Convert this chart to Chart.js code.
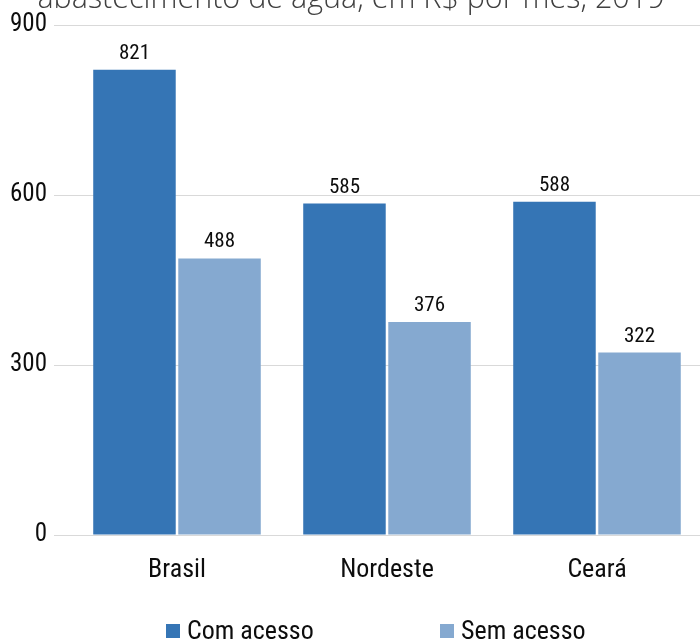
<!DOCTYPE html>
<html>
<head>
<meta charset="utf-8">
<title>Gasto com água</title>
<script src="https://cdn.jsdelivr.net/npm/chart.js@4.4.1/dist/chart.umd.min.js"></script>
<style>
  html, body { margin: 0; padding: 0; overflow: hidden; background: #fff; }
  #caixa { position: relative; width: 700px; height: 641px; overflow: hidden; }
  #grafico { position: absolute; left: 0; top: -19px; }
</style>
</head>
<body>
<div id="caixa">
  <canvas id="grafico" width="702" height="660"></canvas>
</div>
<script>
// dados
const categorias = ['Brasil', 'Nordeste', 'Ceará'];
const comAcesso = [821, 585, 588];
const semAcesso = [488, 376, 322];
const ticksY = [0, 300, 600, 900];
const titulo = 'abastecimento de água, em R$ por mês, 2019';

const corCom = '#3575b5';
const corSem = '#85a9d0';
const corTexto = '#0d0d0d';
const fonteNarrow = "'Roboto Condensed', 'Liberation Sans', Arial, sans-serif";

// rótulos em cima das barras
const rotulosBarras = {
  id: 'rotulosBarras',
  afterDatasetsDraw(chart) {
    const ctx = chart.ctx;
    ctx.save();
    ctx.font = '21px ' + fonteNarrow;
    ctx.fillStyle = corTexto;
    ctx.textAlign = 'center';
    ctx.textBaseline = 'alphabetic';
    chart.data.datasets.forEach((ds, i) => {
      chart.getDatasetMeta(i).data.forEach((bar, j) => {
        ctx.fillText(ds.data[j], bar.x, bar.y - 11);
      });
    });
    ctx.restore();
  }
};

// legenda desenhada na mão (espaçamento igual ao original)
const legendaManual = {
  id: 'legendaManual',
  afterDraw(chart) {
    const ctx = chart.ctx;
    const posX = [166, 440];
    const base = 658;
    ctx.save();
    ctx.font = '26px ' + fonteNarrow;
    ctx.textBaseline = 'alphabetic';
    chart.data.datasets.forEach((ds, i) => {
      ctx.fillStyle = ds.backgroundColor;
      ctx.fillRect(posX[i], base - 15, 14, 14);
      ctx.fillStyle = corTexto;
      ctx.fillText(ds.label, posX[i] + 21, base);
    });
    ctx.restore();
  }
};

new Chart(document.getElementById('grafico'), {
  type: 'bar',
  data: {
    labels: categorias,
    datasets: [
      { label: 'Com acesso', data: comAcesso, backgroundColor: corCom },
      { label: 'Sem acesso', data: semAcesso, backgroundColor: corSem }
    ]
  },
  options: {
    responsive: false,
    animation: false,
    layout: { padding: 0 },
    datasets: {
      bar: { categoryPercentage: 0.81, barPercentage: 0.97 }
    },
    plugins: {
      legend: { display: false },
      tooltip: { enabled: false },
      title: {
        display: true,
        text: titulo,
        color: '#404040',
        font: { family: "'Open Sans', 'DejaVu Sans', sans-serif", size: 30.5, weight: 300 },
        padding: { top: 0, bottom: 7.4 }
      }
    },
    scales: {
      x: {
        grid: { display: false },
        border: { display: false },
        ticks: {
          color: corTexto,
          font: { family: fonteNarrow, size: 26 },
          padding: 12
        },
        afterFit(s) { s.height = 106; }
      },
      y: {
        min: 0,
        max: 900,
        border: { display: false },
        grid: { color: '#d9d9d9', tickLength: 18, tickColor: '#d9d9d9' },
        ticks: {
          color: corTexto,
          font: { family: fonteNarrow, size: 25 },
          padding: 7
        },
        afterBuildTicks(s) { s.ticks = ticksY.map(v => ({ value: v })); },
        afterFit(s) { s.width = 72; }
      }
    }
  },
  plugins: [rotulosBarras, legendaManual]
});
</script>
</body>
</html>
